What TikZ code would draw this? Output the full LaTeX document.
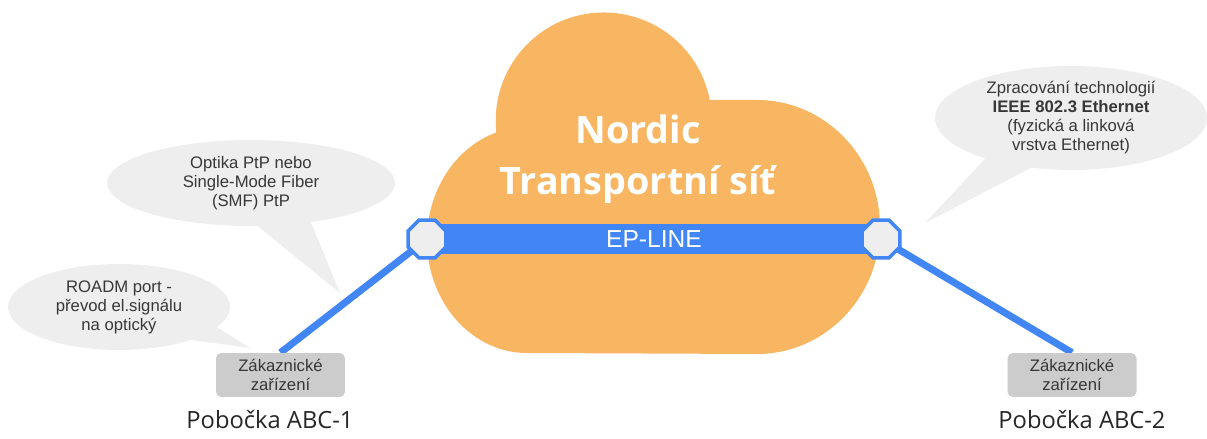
\documentclass[tikz,border=0pt]{standalone}
\usepackage{fontspec}
\setmainfont{Liberation Sans}
\newfontfamily\sitefont{Open Sans}
\usetikzlibrary{shapes.callouts,shapes.geometric}
\definecolor{cloudorange}{RGB}{248,182,98}
\definecolor{lineblue}{RGB}{66,133,244}
\definecolor{bubblegray}{RGB}{238,238,238}
\definecolor{boxgray}{RGB}{204,204,204}
\definecolor{textgray}{RGB}{55,55,55}
\pgfdeclarelayer{back}
\pgfsetlayers{back,main}

\begin{document}
\begin{tikzpicture}[x=0.02cm,y=0.02cm,
port/.style={regular polygon,regular polygon sides=8,minimum size=0.82cm,inner sep=0pt,fill=bubblegray,draw=lineblue,line width=2pt},
device/.style={rounded corners=3pt,fill=boxgray,minimum width=2.58cm,minimum height=0.88cm,align=center,font=\fontsize{9.5}{10.8}\selectfont,text=textgray},
bubble/.style={ellipse callout,fill=bubblegray,inner sep=0pt,align=center,font=\fontsize{9.5}{10.8}\selectfont,text=textgray,callout pointer arc=22},
site/.style={font=\sitefont\fontsize{13.5}{16}\selectfont,text=black!85},
link/.style={lineblue,line width=4pt}]
\useasboundingbox(0,0)rectangle(1207,439);
\node[port](A)at(427,200){};
\node[port](B)at(881,200){};
\node[device](K1)at(280.5,64){Zákaznické\\zařízení};
\node[device](K2)at(1072,64){Zákaznické\\zařízení};
\node[site](P1)at(270,19){Pobočka ABC-1};
\node[site](P2)at(1082,19){Pobočka ABC-2};
\node[font=\sitefont\bfseries\fontsize{21.5}{29}\selectfont,text=white,align=center](N)at(638,280){Nordic\\Transportní síť};
\node[bubble,minimum width=5.76cm,minimum height=1.72cm,callout absolute pointer={(340,146)}](C1)at(251,256){Optika PtP nebo\\Single-Mode Fiber\\(SMF) PtP};
\node[bubble,minimum width=4.44cm,minimum height=1.72cm,callout absolute pointer={(250,91)}](C2)at(119,132){ROADM port -\\převod el.signálu\\na optický};
\node[bubble,minimum width=5.44cm,minimum height=2.08cm,callout absolute pointer={(925,216)}](C3)at(1071,321){Zpracování technologií\\\textbf{IEEE 802.3 Ethernet}\\(fyzická a linková\\vrstva Ethernet)};
\begin{pgfonlayer}{back}
\fill[cloudorange](496,311)arc[start angle=184,end angle=11,radius=108]--(757,339)
  arc[start angle=90,end angle=-90,x radius=123,y radius=127]--(527,86)
  arc[start angle=-90,end angle=-252,x radius=100,y radius=113]--cycle;
\draw[lineblue,line width=0.6cm](A.center)--node[text=white,font=\fontsize{14}{16}\selectfont]{EP-LINE}(B.center);
\draw[link](A.center)--(K1.north);
\draw[link](B.center)--(K2.north);
\end{pgfonlayer}
\end{tikzpicture}
\end{document}
